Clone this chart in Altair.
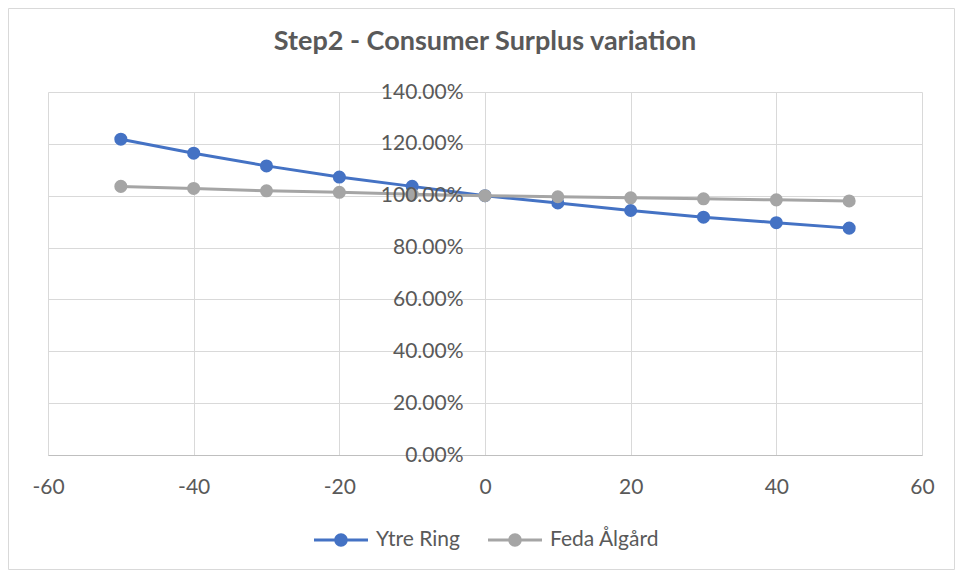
import altair as alt
import pandas as pd

x_vals = [-50, -40, -30, -20, -10, 0, 10, 20, 30, 40, 50]
ytre_ring = [1.218, 1.164, 1.115, 1.072, 1.036, 1.000, 0.972, 0.943, 0.917, 0.896, 0.875]
feda_algard = [1.036, 1.028, 1.019, 1.013, 1.006, 1.000, 0.996, 0.992, 0.988, 0.984, 0.980]
series_names = ["Ytre Ring", "Feda Ålgård"]
series_colors = ["#4472C4", "#A5A5A5"]
x_ticks = [-60, -40, -20, 0, 20, 40, 60]
y_ticks = [0, 0.2, 0.4, 0.6, 0.8, 1.0, 1.2, 1.4]

rows = []
for name, vals in zip(series_names, [ytre_ring, feda_algard]):
    for xv, yv in zip(x_vals, vals):
        rows.append({"x": xv, "value": yv, "series": name})
df = pd.DataFrame(rows)

FONT = "Lato"
TXT = "#595959"
W, H = 874, 363
LEFT, TOP = 40, 84

color_scale = alt.Scale(domain=series_names, range=series_colors)
x_enc = alt.X("x:Q", scale=alt.Scale(domain=[-60, 60], nice=False),
              axis=alt.Axis(values=x_ticks, grid=True, gridColor="#D9D9D9",
                            domainColor="#BFBFBF", ticks=False, labelPadding=21,
                            labelFlush=False, labelExpr="'' + datum.value",
                            labelFont=FONT, labelFontSize=21, labelColor=TXT, title=None))
y_scale = alt.Scale(domain=[0, 1.4], nice=False)

base = alt.Chart(df)

symbol_path = ("M-1,-0.056L1,-0.056L1,0.056L-1,0.056Z"
               "M0.25,0A0.25,0.25,0,1,1,-0.25,0A0.25,0.25,0,1,1,0.25,0Z")
legend = alt.Legend(title=None, orient="none", direction="horizontal",
                    legendX=266, legendY=421, symbolType=symbol_path,
                    symbolSize=2916, symbolStrokeWidth=0, labelOffset=8,
                    columnPadding=28, labelFont=FONT, labelFontSize=21,
                    labelColor=TXT, padding=0)

border = alt.Chart(pd.DataFrame({"a": [0]})).mark_rect(
    fill=None, stroke="#D9D9D9", strokeWidth=1, clip=False
).encode(
    x=alt.value(-LEFT + 0.5), x2=alt.value(W + 32.5),
    y=alt.value(-TOP + 0.5), y2=alt.value(H + 114.5),
)

layers = []
for i, (name, col) in enumerate(zip(series_names, series_colors)):
    sub = base.transform_filter(alt.datum.series == name)
    if i == 0:
        y_line = alt.Y("value:Q", scale=y_scale,
                       axis=alt.Axis(values=y_ticks, grid=True, gridColor="#D9D9D9",
                                     labels=False, ticks=False, domain=False,
                                     title=None, orient="left", zindex=0))
    else:
        y_line = alt.Y("value:Q", scale=y_scale, axis=None)
    line = sub.mark_line(strokeWidth=3, color=col).encode(x=x_enc, y=y_line)
    if i == len(series_names) - 1:
        y_pt = alt.Y("value:Q", scale=y_scale,
                     axis=alt.Axis(values=y_ticks, format=".2%", grid=False, ticks=False,
                                   domain=False, labelPadding=22, offset=-W / 2,
                                   labelFlush=False, orient="left", zindex=1, title=None,
                                   labelFont=FONT, labelFontSize=21, labelColor=TXT))
    else:
        y_pt = alt.Y("value:Q", scale=y_scale, axis=None)
    pts = sub.mark_circle(size=170, opacity=1).encode(
        x=x_enc,
        y=y_pt,
        color=alt.Color("series:N", scale=color_scale, legend=legend),
    )
    layers += [line, pts]

chart = alt.layer(border, *layers).resolve_axis(y="independent").properties(
    width=W, height=H,
    autosize=alt.AutoSizeParams(type="none"),
    padding={"left": LEFT, "top": TOP, "right": 33, "bottom": 115},
    title=alt.TitleParams("Step2 - Consumer Surplus variation", font=FONT, fontSize=27,
                          fontWeight="bold", color=TXT, anchor="middle",
                          baseline="alphabetic", offset=-69),
).configure(background="white").configure_view(stroke=None)

chart.save("out.html", embed_options={"renderer": "svg", "actions": False})
